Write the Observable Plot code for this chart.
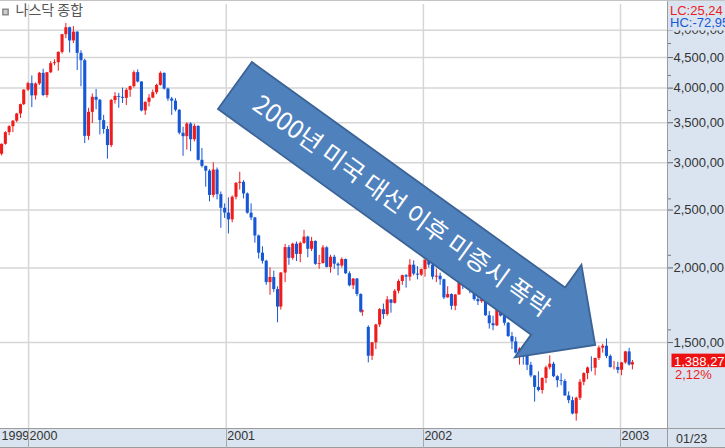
<!DOCTYPE html>
<html>
<head>
<meta charset="utf-8">
<script src="https://cdn.jsdelivr.net/npm/d3@7"></script>
<script src="https://cdn.jsdelivr.net/npm/@observablehq/plot@0.6"></script>
<style>
  body { margin: 0; background: #fff; }
  #chart svg { display: block; }
</style>
</head>
<body>
<div id="chart"></div>
<script>
// weekly candles, NASDAQ composite (week ending dates)
const weekEnd = [
  "1999-11-12","1999-11-19","1999-11-26","1999-12-03","1999-12-10","1999-12-17","1999-12-23","1999-12-31",
  "2000-01-07","2000-01-14","2000-01-21","2000-01-28","2000-02-04","2000-02-11","2000-02-18","2000-02-25",
  "2000-03-03","2000-03-10","2000-03-17","2000-03-24","2000-03-31","2000-04-07","2000-04-14","2000-04-21","2000-04-28",
  "2000-05-05","2000-05-12","2000-05-19","2000-05-26","2000-06-02","2000-06-09","2000-06-16","2000-06-23","2000-06-30",
  "2000-07-07","2000-07-14","2000-07-21","2000-07-28","2000-08-04","2000-08-11","2000-08-18","2000-08-25",
  "2000-09-01","2000-09-08","2000-09-15","2000-09-22","2000-09-29","2000-10-06","2000-10-13","2000-10-20","2000-10-27",
  "2000-11-03","2000-11-10","2000-11-17","2000-11-24","2000-12-01","2000-12-08","2000-12-15","2000-12-22","2000-12-29",
  "2001-01-05","2001-01-12","2001-01-19","2001-01-26","2001-02-02","2001-02-09","2001-02-16","2001-02-23",
  "2001-03-02","2001-03-09","2001-03-16","2001-03-23","2001-03-30","2001-04-06","2001-04-12","2001-04-20","2001-04-27",
  "2001-05-04","2001-05-11","2001-05-18","2001-05-25","2001-06-01","2001-06-08","2001-06-15","2001-06-22","2001-06-29",
  "2001-07-06","2001-07-13","2001-07-20","2001-07-27","2001-08-03","2001-08-10","2001-08-17","2001-08-24","2001-08-31",
  "2001-09-07","2001-09-10","2001-09-21","2001-09-28","2001-10-05","2001-10-12","2001-10-19","2001-10-26",
  "2001-11-02","2001-11-09","2001-11-16","2001-11-23","2001-11-30","2001-12-07","2001-12-14","2001-12-21","2001-12-28",
  "2002-01-04","2002-01-11","2002-01-18","2002-01-25","2002-02-01","2002-02-08","2002-02-15","2002-02-22",
  "2002-03-01","2002-03-08","2002-03-15","2002-03-22","2002-03-28","2002-04-05","2002-04-12","2002-04-19","2002-04-26",
  "2002-05-03","2002-05-10","2002-05-17","2002-05-24","2002-05-31","2002-06-07","2002-06-14","2002-06-21","2002-06-28",
  "2002-07-05","2002-07-12","2002-07-19","2002-07-26","2002-08-02","2002-08-09","2002-08-16","2002-08-23","2002-08-30",
  "2002-09-06","2002-09-13","2002-09-20","2002-09-27","2002-10-04","2002-10-11","2002-10-18","2002-10-25",
  "2002-11-01","2002-11-08","2002-11-15","2002-11-22","2002-11-29","2002-12-06","2002-12-13","2002-12-20","2002-12-27",
  "2003-01-03","2003-01-10","2003-01-17","2003-01-23"
];
const open = [
  3100,3221,3369,3447,3521,3620,3753,3969,
  4069,3882,4064,4235,3887,4244,4395,4411,
  4590,4914,5048,4798,4963,4573,4446,3321,3643,
  3860,3817,3529,3410,3205,3813,3874,3860,3845,
  3966,4023,4246,4095,3663,3787,3849,3930,
  4042,4234,3985,3835,3803,3673,3361,3317,3483,
  3278,3451,3028,2958,2904,2645,2917,2653,2517,
  2471,2407,2626,2770,2782,2660,2470,2425,
  2262,2117,2052,1890,1928,1840,1720,1961,2163,
  2075,2192,2107,2198,2252,2149,2215,2028,2034,
  2161,2004,2084,2029,2015,2066,1956,1867,1916,
  1805,1687,1590,1423,1499,1605,1703,1671,
  1768,1745,1828,1898,1941,1930,2021,1953,1945,
  1987,2059,2022,1930,1937,1911,1782,1805,
  1725,1802,1929,1868,1851,1845,1770,1756,1796,
  1663,1613,1600,1741,1661,1616,1535,1504,1440,
  1463,1448,1374,1319,1262,1247,1306,1361,1380,
  1315,1295,1291,1221,1199,1139,1210,1287,
  1331,1360,1359,1411,1468,1479,1422,1362,1363,
  1348,1387,1447,1376
];
const high = [
  3225,3380,3460,3530,3630,3760,3975,4090,
  4192,4080,4250,4303,4250,4430,4460,4600,
  4920,5132,5060,5070,4970,4620,4470,3700,3910,
  3980,3830,3600,3450,3830,3930,3920,4000,3990,
  4030,4275,4290,4100,3790,3900,3970,4060,
  4260,4240,4000,3860,3840,3680,3440,3500,3500,
  3480,3460,3170,2960,2920,3000,2940,2680,2560,
  2620,2640,2780,2892,2800,2670,2560,2430,
  2270,2170,2060,2000,1975,1860,1965,2190,2180,
  2200,2210,2210,2313,2260,2250,2220,2100,2180,
  2170,2100,2100,2040,2080,2070,1970,1920,1920,
  1810,1700,1600,1500,1610,1710,1740,1790,
  1770,1840,1910,1945,1950,2065,2055,2010,1990,
  2098,2070,2030,1990,1960,1915,1860,1810,
  1805,1935,1935,1900,1860,1860,1790,1810,1800,
  1690,1660,1745,1750,1680,1620,1560,1530,1470,
  1465,1450,1390,1320,1340,1310,1370,1425,1390,
  1320,1330,1300,1240,1215,1215,1300,1335,
  1365,1420,1412,1480,1490,1521,1430,1395,1390,
  1390,1450,1467,1400
];
const low = [
  3080,3210,3330,3370,3500,3560,3740,3950,
  3711,3820,4040,3870,3850,4230,4360,4270,
  4560,4840,4580,4750,4280,4020,3230,3270,3490,
  3680,3340,3350,3042,3180,3760,3700,3770,3740,
  3860,4000,4080,3650,3600,3720,3840,3900,
  4030,3970,3800,3600,3650,3340,3075,3150,3130,
  3250,3020,2940,2730,2580,2620,2600,2330,2420,
  2280,2380,2600,2700,2610,2460,2400,2200,
  2070,2030,1870,1800,1820,1619,1700,1890,2020,
  2060,2050,2040,2190,2080,2130,2020,1990,2030,
  2000,1960,1990,1940,2000,1950,1860,1840,1790,
  1680,1660,1387,1400,1460,1590,1640,1660,
  1680,1740,1810,1870,1850,1900,1940,1910,1935,
  1930,2000,1910,1890,1870,1770,1780,1700,
  1696,1800,1840,1840,1810,1760,1730,1745,1660,
  1580,1570,1595,1655,1600,1530,1460,1435,1375,
  1375,1346,1310,1192,1240,1230,1280,1350,1310,
  1260,1270,1220,1185,1135,1108,1200,1270,
  1300,1340,1320,1400,1440,1410,1360,1350,1330,
  1320,1380,1370,1350
];
const close = [
  3221,3369,3447,3521,3620,3753,3969,4069,
  3882,4064,4235,3887,4244,4395,4411,4590,
  4914,5048,4798,4963,4573,4446,3321,3643,3860,
  3817,3529,3410,3205,3813,3874,3860,3845,3966,
  4023,4246,4095,3663,3787,3849,3930,4042,
  4234,3985,3835,3803,3673,3361,3317,3483,3278,
  3451,3028,2958,2904,2645,2917,2653,2517,2471,
  2407,2626,2770,2782,2660,2470,2425,2262,
  2117,2052,1890,1928,1840,1720,1961,2163,2075,
  2192,2107,2198,2252,2149,2215,2028,2034,2161,
  2004,2084,2029,2015,2066,1956,1867,1916,1805,
  1687,1695,1423,1499,1605,1703,1671,1768,
  1745,1828,1898,1941,1930,2021,1953,1945,1987,
  2059,2022,1930,1937,1911,1782,1805,1725,
  1802,1929,1868,1851,1845,1770,1756,1796,1663,
  1613,1600,1741,1661,1616,1535,1504,1440,1463,
  1448,1374,1319,1262,1247,1306,1361,1380,1315,
  1295,1291,1221,1199,1139,1210,1287,1331,
  1360,1359,1411,1468,1479,1422,1362,1363,1348,
  1387,1447,1376,1388.27
];

const yTicks = [1500, 2000, 2500, 3000, 3500, 4000, 4500, 5000];
const yMinorTicks = [1575, 2100, 2610, 3145, 3670, 4200, 4750];
const yearStarts = ["1999-11-10", "2000-01-01", "2001-01-01", "2002-01-01", "2003-01-01"];
const xDomain = ["1999-11-10", "2003-03-29"];
const yDomain = [1077, 5521];

const title = "나스닥 종합";
const lcText = "LC:25,24";
const hcText = "HC:-72,95";
const changeText = "2,12%";
const lastDateText = "01/23";

const arrowLabel = "2000년 미국 대선 이후 미증시 폭락";
const arrowTail = {date: "2001-01-18", value: 4032};
const arrowTip = {date: "2002-11-16", value: 1483};

const red = "#ee1c1c", blue = "#1657d6";
const panelFill = "#dae4f0";
const axisFont = "'Liberation Sans', Arial, sans-serif";

const candles = weekEnd.map((d, i) => ({
  date: new Date(d), open: open[i], high: high[i], low: low[i], close: close[i]
}));
const candleColor = d => (d.close >= d.open ? red : blue);
const years = yearStarts.map(d => new Date(d));

const chart = Plot.plot({
  width: 725,
  height: 448,
  marginTop: 4,
  marginRight: 58,
  marginBottom: 20,
  marginLeft: 0,
  style: {fontFamily: axisFont, fontSize: "13px", color: "#333"},
  x: {type: "utc", domain: xDomain.map(d => new Date(d))},
  y: {type: "log", domain: yDomain},
  marks: [
    Plot.gridY(yTicks, {stroke: "#d6d6d6", strokeOpacity: 1, strokeWidth: 1.5}),
    Plot.gridX(years.slice(1), {stroke: "#d6d6d6", strokeOpacity: 1, strokeWidth: 1.5}),
    Plot.ruleX(candles, {x: "date", y1: "low", y2: "high", stroke: candleColor, strokeWidth: 1}),
    Plot.ruleX(candles, {x: "date", y1: "open", y2: "close", stroke: candleColor, strokeWidth: 3.1}),
    Plot.axisY(yTicks, {
      anchor: "right", tickSize: 5, tickPadding: 1, stroke: "#666", fill: "#333", fontSize: 13,
      tickFormat: d => d3.format(",")(d) + ",00"
    }),
    Plot.axisY(yMinorTicks, {anchor: "right", tickSize: 3, stroke: "#777", tickFormat: () => ""}),
    Plot.axisX(years, {
      anchor: "bottom", tickSize: 0, tickPadding: 3, textAnchor: "start", dx: 1, fontSize: 12.5,
      fill: "#333", tickFormat: d3.utcFormat("%Y")
    }),
    Plot.dot([0], {frameAnchor: "top-left", dx: 5, dy: 7.5, symbol: "square", r: 3, fill: "#cfcfcf", stroke: "#8a8a8a"}),
    Plot.text([title], {
      frameAnchor: "top-left", dx: 15, dy: 1, lineAnchor: "top", textAnchor: "start",
      fontSize: 14, fill: "#555", fontFamily: "'Noto Sans CJK KR', sans-serif"
    })
  ]
});

// chart chrome: side panel, bottom strip, status texts, annotation arrow
const svg = d3.select(chart);
const xScale = chart.scale("x"), yScale = chart.scale("y");
const x = d => xScale.apply(d), y = v => yScale.apply(v);
const xRight = xScale.range[1];
const [yBottom, yTop] = yScale.range;
const W = 725, H = 448;

const bg = svg.insert("g", ":first-child");
bg.append("rect").attr("x", xRight).attr("y", 0).attr("width", W - xRight).attr("height", H).attr("fill", panelFill);
bg.append("rect").attr("x", 0).attr("y", yBottom).attr("width", xRight).attr("height", H - yBottom).attr("fill", panelFill);

const frame = svg.append("g").attr("fill", "none");
frame.append("line").attr("x1", xRight + 0.5).attr("x2", xRight + 0.5).attr("y1", 0).attr("y2", H).attr("stroke", "#9c9c9c");
frame.append("line").attr("x1", 0).attr("x2", W).attr("y1", yBottom + 0.5).attr("y2", yBottom + 0.5).attr("stroke", "#9c9c9c");
frame.append("line").attr("x1", 0).attr("x2", W).attr("y1", 0.5).attr("y2", 0.5).attr("stroke", "#c4c4c4");
frame.append("line").attr("x1", 0).attr("x2", W).attr("y1", H - 0.5).attr("y2", H - 0.5).attr("stroke", "#9c9c9c");
years.slice(1).forEach(d => {
  const px = Math.round(x(d)) + 0.5;
  frame.append("line").attr("x1", px).attr("x2", px).attr("y1", yBottom).attr("y2", H).attr("stroke", "#a8a8a8");
});

const side = svg.append("g").attr("font-family", axisFont).attr("font-size", 13).attr("text-anchor", "start");
side.append("rect").attr("x", xRight + 1).attr("y", 2).attr("width", W - xRight).attr("height", 28.5).attr("fill", panelFill);
side.append("text").attr("x", xRight + 3).attr("y", 15).attr("fill", red).text(lcText);
side.append("text").attr("x", xRight + 3).attr("y", 27).attr("fill", blue).text(hcText);

const last = candles[candles.length - 1];
const yLast = y(last.close);
side.append("rect").attr("x", xRight + 4.5).attr("y", yLast - 8.5).attr("width", W - xRight).attr("height", 13.5).attr("fill", "#ee1111");
side.append("text").attr("x", xRight + 7).attr("y", yLast + 4).attr("fill", "#fff")
  .text(d3.format(",.2f")(last.close).replace(".", ","));
side.append("text").attr("x", xRight + 8).attr("y", yLast + 16.5).attr("fill", red).text(changeText);
side.append("text").attr("x", xRight + 9).attr("y", H - 5).attr("fill", "#333").attr("font-size", 12.5).text(lastDateText);

// block arrow
const p0 = [x(new Date(arrowTail.date)), y(arrowTail.value)];
const p1 = [x(new Date(arrowTip.date)), y(arrowTip.value)];
const dx = p1[0] - p0[0], dy = p1[1] - p0[1];
const len = Math.hypot(dx, dy);
const ux = dx / len, uy = dy / len, nx = -uy, ny = ux;
const shaftHalf = 29, headLen = 58, headHalf = 57;
const base = [p1[0] - ux * headLen, p1[1] - uy * headLen];
const pt = (p, s) => [p[0] + nx * s, p[1] + ny * s];
const arrowPts = [
  pt(p0, -shaftHalf), pt(base, -shaftHalf), pt(base, -headHalf), p1,
  pt(base, headHalf), pt(base, shaftHalf), pt(p0, shaftHalf)
];
const arrow = svg.append("g");
arrow.append("polygon")
  .attr("points", arrowPts.map(p => p.join(",")).join(" "))
  .attr("fill", "#4f81bd").attr("stroke", "#3b6396").attr("stroke-width", 1.8).attr("stroke-linejoin", "miter");
const angle = Math.atan2(dy, dx) * 180 / Math.PI;
const tc = [p0[0] + ux * 206, p0[1] + uy * 206];
arrow.append("text")
  .attr("transform", `translate(${tc[0]},${tc[1]}) rotate(${angle})`)
  .attr("text-anchor", "middle").attr("dy", "0.36em")
  .attr("font-family", "'Noto Sans CJK KR', sans-serif").attr("font-size", 25)
  .attr("fill", "#fff").text(arrowLabel);

document.getElementById("chart").append(chart);
</script>
</body>
</html>
